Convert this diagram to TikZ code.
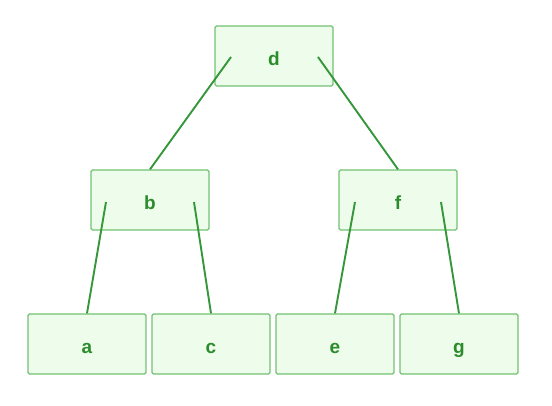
\documentclass[tikz,border=0pt]{standalone}
\usepackage{fontspec}
\setmainfont{Liberation Sans}
\definecolor{boxfill}{HTML}{EDFCEB}
\definecolor{boxline}{HTML}{72C272}
\definecolor{edgeline}{HTML}{35963A}
\definecolor{labeltext}{HTML}{2C8C2C}

\tikzset{
  treenode/.style={draw=boxline, fill=boxfill, rounded corners=1.5pt, line width=1.3pt,
    minimum width=118pt, minimum height=60pt, inner sep=0pt,
    text height=19pt, text depth=0pt,
    text=labeltext, font=\fontsize{19}{19}\selectfont\bfseries},
  treeedge/.style={draw=edgeline, line width=1.9pt}
}

\begin{document}
\begin{tikzpicture}[x=1pt,y=-1pt]
\useasboundingbox (0,0) rectangle (552,406);

\node[treenode] (d) at (274,56) {d};

\node[treenode] (b) at (150,200) {b};
\node[treenode] (f) at (398,200) {f};

\node[treenode] (a) at (87,344) {a};
\node[treenode] (c) at (211,344) {c};
\node[treenode] (e) at (335,344) {e};
\node[treenode] (g) at (459,344) {g};

\draw[treeedge] ([shift={(-43,1)}]d.center) -- (b.north);
\draw[treeedge] ([shift={(44,1)}]d.center) -- (f.north);
\draw[treeedge] ([shift={(-44,2)}]b.center) -- (a.north);
\draw[treeedge] ([shift={(44,2)}]b.center) -- (c.north);
\draw[treeedge] ([shift={(-43,2)}]f.center) -- (e.north);
\draw[treeedge] ([shift={(43,2)}]f.center) -- (g.north);
\end{tikzpicture}
\end{document}
